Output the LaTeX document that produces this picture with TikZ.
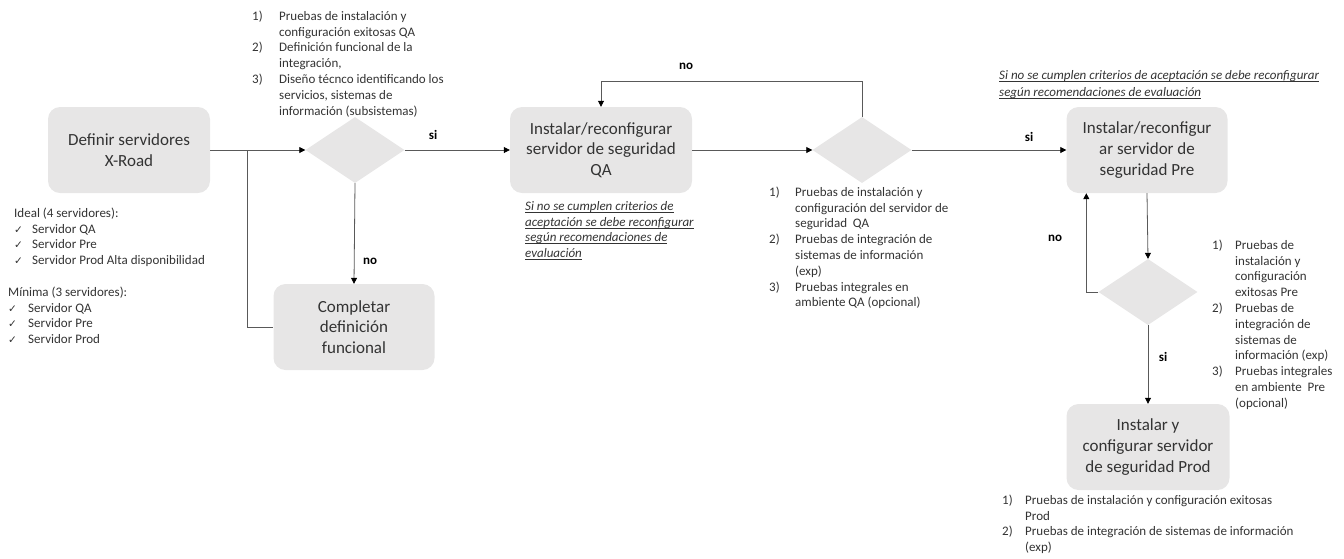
\documentclass[tikz,border=0pt]{standalone}
\usepackage{fontspec}
\setmainfont{Carlito}
\newfontfamily\symfont{DejaVu Sans}
\usetikzlibrary{shapes.geometric,arrows.meta}
\definecolor{boxgray}{HTML}{E7E6E6}
\definecolor{txtgray}{HTML}{333333}
\definecolor{linegray}{HTML}{595959}
\newcommand\nm[2]{\makebox[#1][l]{#2}}
\newcommand\ck[1]{\makebox[#1][l]{\symfont\fontsize{10.5}{10}\selectfont ✓}}
\newcommand\fs{\rule{0pt}{11pt}}
\newcommand\ulin[1]{\setbox0\hbox{#1}\rlap{\rule[-2pt]{\wd0}{0.5pt}}\box0}
\tikzset{
  procbox/.style={rectangle, rounded corners=12pt, fill=boxgray, draw=none, align=center,
    font=\fontsize{17}{20.6}\selectfont, text=txtgray, inner sep=0pt},
  decbox/.style={diamond, fill=boxgray, draw=none, minimum width=99pt, minimum height=66pt, inner sep=0pt},
  note/.style={anchor=north west, inner sep=0pt, align=left, font=\fontsize{13}{15.8}\selectfont, text=txtgray},
  lbl/.style={font=\fontsize{13}{15}\selectfont\bfseries, text=black, inner sep=0pt},
  flow/.style={draw=linegray, line width=0.8pt, -{Triangle[length=6pt,width=6pt,color=black]}},
  link/.style={draw=linegray, line width=0.8pt},
}
\begin{document}
\begin{tikzpicture}[x=1pt,y=-1pt]
\useasboundingbox (0,0) rectangle (1344,558);
% process boxes
\node[procbox, minimum width=162pt, minimum height=86pt] (A) at (129,150) {Definir servidores\\X-Road};
\node[procbox, minimum width=161pt, minimum height=86pt] (B) at (354,327) {Completar\\definición\\funcional};
\node[procbox, minimum width=182pt, minimum height=86pt] (C) at (601,150) {Instalar/reconfigurar\\servidor de seguridad\\QA};
\node[procbox, minimum width=161pt, minimum height=86pt] (E) at (1147,150) {Instalar/reconfigur\\ar servidor de\\seguridad Pre};
\node[procbox, minimum width=163pt, minimum height=86pt] (F) at (1148,447) {Instalar y\\configurar servidor\\de seguridad Prod};
% decisions
\node[decbox] (D1) at (355,150) {};
\node[decbox] (D2) at (862,150) {};
\node[decbox] (D3) at (1148,292) {};
% connectors
\coordinate (j1) at (247,150);
\draw[flow] (A.east) -- (D1.west);
\draw[link] (j1) |- (B.west);
\draw[flow] (D1.east) -- (C.west);
\draw[flow] (D1.south) -- (B.north);
\draw[flow] (C.east) -- (D2.west);
\draw[flow] (D2.north) -- ++(0,-35) -| (C.north);
\draw[flow] (D2.east) -- (E.west);
\draw[flow] (E.south) -- (D3.north);
\coordinate (eb) at ([xshift=20pt]E.south west);
\draw[flow] (D3.west) -| (eb);
\draw[flow] (D3.south) -- (F.north);
% labels
\node[lbl] (l1) at (433,135) {si};
\node[lbl] (l2) at (370,261) {no};
\node[lbl] (l3) at (686,66) {no};
\node[lbl] (l4) at (1029,137) {si};
\node[lbl] (l5) at (1055,238) {no};
\node[lbl] (l6) at (1163,357) {si};
% notes
\node[note] (n1) at (252,9) {\fs\nm{27pt}{1)}Pruebas de instalación y\\
  \nm{27pt}{}configuración exitosas QA\\
  \nm{27pt}{2)}Definición funcional de la\\
  \nm{27pt}{}integración,\\
  \nm{27pt}{3)}Diseño técnco identificando los\\
  \nm{27pt}{}servicios, sistemas de\\
  \nm{27pt}{}información (subsistemas)};
\node[note] (n2) at (14,206) {\fs Ideal (4 servidores):\\
  \ck{18pt}Servidor QA\\
  \ck{18pt}Servidor Pre\\
  \ck{18pt}Servidor Prod Alta disponibilidad};
\node[note] (n3) at (8,285) {\fs Mínima (3 servidores):\\
  \ck{20pt}Servidor QA\\
  \ck{20pt}Servidor Pre\\
  \ck{20pt}Servidor Prod};
\node[note, font=\fontsize{13}{15.8}\selectfont\itshape] (n4) at (525,199) {\fs\ulin{Si no se cumplen criterios de}\\
  \ulin{aceptación se debe reconfigurar}\\
  \ulin{según recomendaciones de}\\
  \ulin{evaluación}};
\node[note] (n5) at (769,185) {\fs\nm{26pt}{1)}Pruebas de instalación y\\
  \nm{26pt}{}configuración del servidor de\\
  \nm{26pt}{}seguridad\ \ QA\\
  \nm{26pt}{2)}Pruebas de integración de\\
  \nm{26pt}{}sistemas de información\\
  \nm{26pt}{}(exp)\\
  \nm{26pt}{3)}Pruebas integrales en\\
  \nm{26pt}{}ambiente QA (opcional)};
\node[note, font=\fontsize{13}{16.8}\selectfont\itshape] (n6) at (999,68) {\fs\ulin{Si no se cumplen criterios de aceptación se debe reconfigurar}\\
  \ulin{según recomendaciones de evaluación}};
\node[note] (n7) at (1212,238) {\fs\nm{23pt}{1)}Pruebas de\\
  \nm{23pt}{}instalación y\\
  \nm{23pt}{}configuración\\
  \nm{23pt}{}exitosas Pre\\
  \nm{23pt}{2)}Pruebas de\\
  \nm{23pt}{}integración de\\
  \nm{23pt}{}sistemas de\\
  \nm{23pt}{}información (exp)\\
  \nm{23pt}{3)}Pruebas integrales\\
  \nm{23pt}{}en ambiente\ \ Pre\\
  \nm{23pt}{}(opcional)};
\node[note] (n8) at (1002,493) {\fs\nm{23pt}{1)}Pruebas de instalación y configuración exitosas\\
  \nm{23pt}{}Prod\\
  \nm{23pt}{2)}Pruebas de integración de sistemas de información\\
  \nm{23pt}{}(exp)};
\end{tikzpicture}
\end{document}
